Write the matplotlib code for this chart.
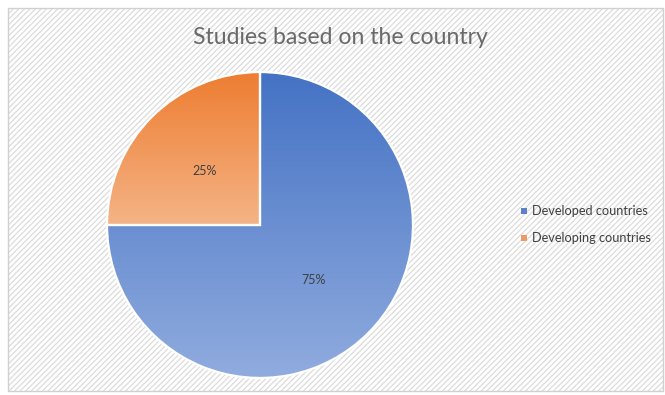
import matplotlib
matplotlib.use("Agg")
import matplotlib.pyplot as plt
import numpy as np
from matplotlib.patches import Rectangle
from matplotlib.colors import LinearSegmentedColormap

categories = ["Developed countries", "Developing countries"]
values = [75, 25]
top_colors = ["#4472C4", "#ED7D31"]
bottom_colors = ["#91ACDF", "#F5B486"]
legend_colors = ["#5B7FC8", "#EE9A63"]

plt.rcParams['font.family'] = ['Lato', 'DejaVu Sans']

fig = plt.figure(figsize=(6.65, 3.95), dpi=100)
W, H = 665, 395

# background with diagonal hatch
bg = fig.add_axes([0, 0, 1, 1])
bg.set_xlim(0, W); bg.set_ylim(H, 0); bg.axis('off')
bg.add_patch(Rectangle((0, 0), W, H, facecolor='white', edgecolor='none'))
plt.rcParams['hatch.linewidth'] = 0.9
bg.add_patch(Rectangle((8, 8), W - 10, H - 12, facecolor='#ffffff',
                       edgecolor='#dcdcdc', hatch='//////', linewidth=0))
bg.add_patch(Rectangle((8, 8), W - 10, H - 12, facecolor='none',
                       edgecolor='#d0d0d0', linewidth=1.0))

# pie axes
cx, cy, r = 260, 225, 154.5
ax = fig.add_axes([(cx - r) / W, (H - cy - r) / H, 2 * r / W, 2 * r / H])
wedges, texts = ax.pie(values, startangle=90, counterclock=False,
                       colors=['none', 'none'],
                       wedgeprops=dict(edgecolor='none'))
ax.set_aspect('equal')
ax.axis('off')

for w, ct, cb in zip(wedges, top_colors, bottom_colors):
    path = w.get_path()
    verts = path.vertices
    ymin, ymax = verts[:, 1].min(), verts[:, 1].max()
    xmin, xmax = verts[:, 0].min(), verts[:, 0].max()
    cmap = LinearSegmentedColormap.from_list('g', [cb, ct])
    grad = np.linspace(0, 1, 256).reshape(-1, 1)
    im = ax.imshow(grad, cmap=cmap, origin='lower', aspect='auto',
                   extent=[xmin, xmax, ymin, ymax], zorder=1)
    im.set_clip_path(w)
    w.set_zorder(2)
    w.set_facecolor('none')
    w.set_edgecolor('white')
    w.set_linewidth(1.6)
ax.set_xlim(-1.01, 1.01); ax.set_ylim(-1.01, 1.01)

# percentage labels
ax.text(0.35, -0.36, "75%", ha='center', va='center', fontsize=9, color='#404040', zorder=3)
ax.text(-0.36, 0.35, "25%", ha='center', va='center', fontsize=9, color='#404040', zorder=3)

# title
bg.text(340, 37, "Studies based on the country", ha='center', va='center',
        fontsize=16.6, color='#6a6a6a')

# legend
for i, (lab, col) in enumerate(zip(categories, legend_colors)):
    y = 211 + i * 27
    bg.add_patch(Rectangle((521, y - 3), 6, 6, facecolor=col, edgecolor='none'))
    bg.text(532, y, lab, ha='left', va='center', fontsize=9.2, color='#404040')

fig.savefig("out.png", dpi=100)
